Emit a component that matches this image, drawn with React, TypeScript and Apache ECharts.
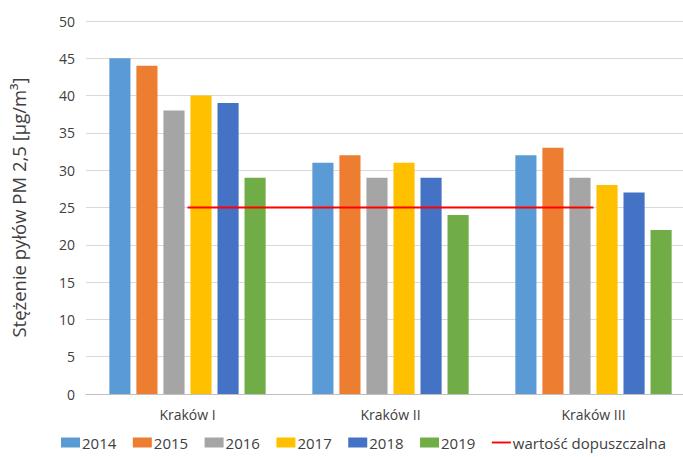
import React, { useEffect, useRef } from "react";
import * as echarts from "echarts";

const categories = ["Kraków I", "Kraków II", "Kraków III"];
const years = ["2014", "2015", "2016", "2017", "2018", "2019"];
const values2014 = [45, 31, 32];
const values2015 = [44, 32, 33];
const values2016 = [38, 29, 29];
const values2017 = [40, 31, 28];
const values2018 = [39, 29, 27];
const values2019 = [29, 24, 22];
const limitName = "wartość dopuszczalna";
const limitValues = [25, 25, 25];
const colors = ["#5B9BD5", "#ED7D31", "#A5A5A5", "#FFC000", "#4472C4", "#70AD47"];

export default function App() {
  const ref = useRef<HTMLDivElement>(null);
  useEffect(() => {
    if (!ref.current) return;
    const chart = echarts.init(ref.current, null, { renderer: "svg" });
    const font = "'Open Sans', 'Noto Sans', sans-serif";
    const barData = [values2014, values2015, values2016, values2017, values2018, values2019];
    chart.setOption({
      animation: false,
      textStyle: { fontFamily: font },
      grid: { left: 86, top: 21, width: 609, bottom: 63, containLabel: false, outerBoundsMode: "none" },
      legend: {
        bottom: 2,
        left: 56,
        itemWidth: 19,
        itemHeight: 10,
        itemGap: 16.5,
        textStyle: { fontSize: 15, color: "#404040", fontFamily: font, padding: [0, 0, 0, -3] },
        data: [
          ...years.map((y) => ({ name: y, icon: "rect" })),
          { name: limitName, icon: "path://M0,0 L20,0 L20,2 L0,2 Z", itemStyle: { color: "#FF0000" } },
        ],
      },
      xAxis: {
        type: "category",
        data: categories,
        axisTick: { show: false },
        axisLine: { lineStyle: { color: "#bfbfbf" } },
        axisLabel: { color: "#404040", fontSize: 14, margin: 13 },
      },
      yAxis: {
        type: "value",
        min: 0,
        max: 50,
        interval: 5,
        name: "Stężenie pyłów PM 2,5 [μg/m³]",
        nameLocation: "middle",
        nameGap: 58,
        nameTextStyle: { fontSize: 18.5, color: "#404040" },
        axisLabel: { color: "#404040", fontSize: 14, margin: 11 },
        splitLine: { lineStyle: { color: "#d9d9d9" } },
        axisLine: { show: false },
        axisTick: { show: false },
      },
      series: [
        ...years.map((y, i) => ({
          name: y,
          type: "bar",
          data: barData[i],
          itemStyle: { color: colors[i] },
          barGap: "28%",
          barCategoryGap: "23%",
        })),
        {
          name: limitName,
          type: "line",
          data: limitValues,
          symbol: "none",
          lineStyle: { color: "#FF0000", width: 2 },
          itemStyle: { color: "#FF0000" },
          z: 5,
        },
      ],
    });
    return () => chart.dispose();
  }, []);
  return (
    <div style={{ width: 683, height: 457, position: "absolute", left: 0, top: 0, overflow: "hidden", background: "#fff" }}>
      <div ref={ref} style={{ width: 700, height: 457, position: "absolute", left: 0, top: 0 }} />
    </div>
  );
}
